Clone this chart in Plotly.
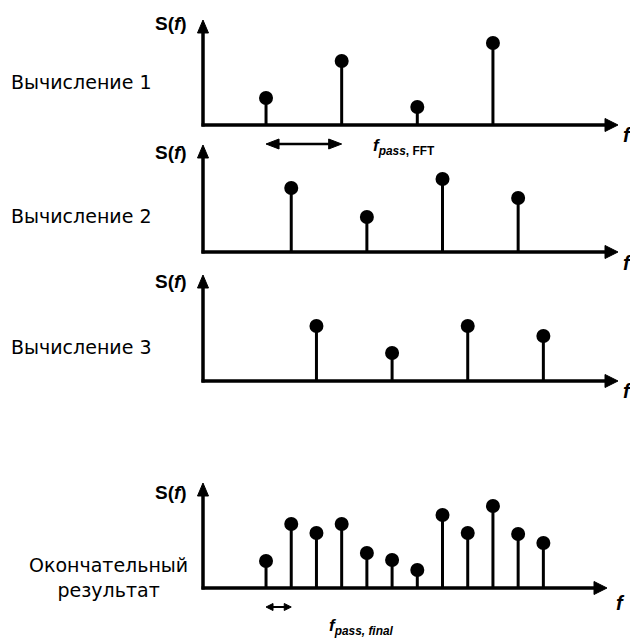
import plotly.graph_objects as go

W, H = 630, 640

# ---------------- data ----------------
calc1_freq = [1, 4, 7, 10]
calc1_amp = [27, 64, 18, 82]
calc2_freq = [2, 5, 8, 11]
calc2_amp = [64, 35, 73, 54]
calc3_freq = [3, 6, 9, 12]
calc3_amp = [55, 28, 55, 45]
final_freq = [1, 2, 3, 4, 5, 6, 7, 8, 9, 10, 11, 12]
final_amp = [27, 64, 55, 64, 35, 28, 18, 73, 55, 82, 54, 45]
panel_labels = ["Вычисление 1", "Вычисление 2", "Вычисление 3",
                "Окончательный<br>результат"]
series = [(calc1_freq, calc1_amp), (calc2_freq, calc2_amp),
          (calc3_freq, calc3_amp), (final_freq, final_amp)]

# ---------------- layout (pixels) ----------------
X0_PX, X1_PX = 203, 619
XR = [-1.5, 15.0]
UPX = (X1_PX - X0_PX) / (XR[1] - XR[0])


def f2px(f):
    return X0_PX + (f - XR[0]) * UPX


def PX(px):
    return px / W


def PY(py):
    return 1 - py / H


def tri(pts):
    s = "M " + " L ".join(f"{PX(a):.5f},{PY(b):.5f}" for a, b in pts) + " Z"
    return dict(type="path", xref="paper", yref="paper", path=s,
                fillcolor="black", line=dict(color="black", width=1))


def hline(x0, x1, y, w):
    return dict(type="line", xref="paper", yref="paper", x0=PX(x0), x1=PX(x1),
                y0=PY(y), y1=PY(y), line=dict(color="black", width=w))


def vline(x, y0, y1, w):
    return dict(type="line", xref="paper", yref="paper", x0=PX(x), x1=PX(x),
                y0=PY(y0), y1=PY(y1), line=dict(color="black", width=w))


panels = [
    dict(base=125, tip=20, xtip=618, lab_y=82, sf_y=24, f_xy=(627, 135)),
    dict(base=252, tip=145, xtip=618, lab_y=216, sf_y=152, f_xy=(627, 263)),
    dict(base=381, tip=275, xtip=618, lab_y=347, sf_y=281, f_xy=(627, 391)),
    dict(base=588, tip=483, xtip=607, lab_y=577, sf_y=492, f_xy=(620, 603)),
]

fig = go.Figure()
shapes = []
annotations = []
FONT = "Liberation Sans, Arial, sans-serif"
LABFONT = "DejaVu Sans, sans-serif"
AX = X0_PX

for i, (p, (fx, fy)) in enumerate(zip(panels, series)):
    n = "" if i == 0 else str(i + 1)
    xa, ya = "x" + n, "y" + n
    ytop = p["base"] - p["tip"]
    fig.layout["xaxis" + n] = dict(domain=[X0_PX / W, X1_PX / W], range=XR,
                                   visible=False, anchor=ya, fixedrange=True)
    fig.layout["yaxis" + n] = dict(domain=[1 - p["base"] / H, 1 - p["tip"] / H],
                                   range=[0, ytop], visible=False, anchor=xa,
                                   fixedrange=True)
    # stems
    sx, sy = [], []
    for f, a in zip(fx, fy):
        sx += [f, f, None]
        sy += [0, a, None]
    fig.add_trace(go.Scatter(x=sx, y=sy, mode="lines",
                             line=dict(color="black", width=3),
                             xaxis=xa, yaxis=ya, showlegend=False,
                             hoverinfo="skip", cliponaxis=False))
    fig.add_trace(go.Scatter(x=fx, y=fy, mode="markers",
                             marker=dict(color="black", size=14),
                             xaxis=xa, yaxis=ya, showlegend=False,
                             cliponaxis=False))
    # axes with arrow heads
    b, t, xt = p["base"], p["tip"], p["xtip"]
    shapes.append(hline(AX - 1.5, xt - 8, b, 3.5))
    shapes.append(vline(AX, b + 1.5, t + 8, 3.5))
    shapes.append(tri([(xt, b), (xt - 13, b - 6.5), (xt - 13, b + 6.5)]))
    shapes.append(tri([(AX, t), (AX - 5.5, t + 13), (AX + 5.5, t + 13)]))
    # S(f)
    annotations.append(dict(xref="paper", yref="paper", x=189 / W, y=PY(p["sf_y"]),
                            xanchor="right", yanchor="middle", showarrow=False,
                            text="<b>S(<i>f</i>)</b>",
                            font=dict(family=FONT, size=19, color="black")))
    # f
    annotations.append(dict(xref="paper", yref="paper", x=p["f_xy"][0] / W,
                            y=PY(p["f_xy"][1]), xanchor="center", yanchor="middle",
                            showarrow=False, text="<b><i>f</i></b>",
                            font=dict(family=FONT, size=20, color="black")))
    # panel label
    if i < 3:
        annotations.append(dict(xref="paper", yref="paper", x=9 / W, y=PY(p["lab_y"]),
                                xanchor="left", yanchor="middle", showarrow=False,
                                text=panel_labels[i],
                                font=dict(family=LABFONT, size=19, color="black")))
    else:
        annotations.append(dict(xref="paper", yref="paper", x=108 / W, y=PY(p["lab_y"]),
                                xanchor="center", yanchor="middle", showarrow=False,
                                align="center", text=panel_labels[i],
                                font=dict(family=LABFONT, size=19, color="black")))


def double_arrow(f0, f1, y, head_len, head_w, lw):
    x0, x1 = f2px(f0), f2px(f1)
    shapes.append(hline(x0 + head_len * 0.6, x1 - head_len * 0.6, y, lw))
    shapes.append(tri([(x1, y), (x1 - head_len, y - head_w / 2), (x1 - head_len, y + head_w / 2)]))
    shapes.append(tri([(x0, y), (x0 + head_len, y - head_w / 2), (x0 + head_len, y + head_w / 2)]))


# spacing arrows (between consecutive bins of one FFT and of the final result)
double_arrow(calc1_freq[0], calc1_freq[1], 144, 13, 10, 2.5)
double_arrow(final_freq[0], final_freq[1], 607, 7, 7, 2)

annotations.append(dict(xref="paper", yref="paper", x=404 / W, y=PY(147),
                        xanchor="center", yanchor="middle", showarrow=False,
                        text="<b><i>f</i><sub><i>pass</i>, FFT</sub></b>",
                        font=dict(family=FONT, size=17, color="black")))
annotations.append(dict(xref="paper", yref="paper", x=361 / W, y=PY(627),
                        xanchor="center", yanchor="middle", showarrow=False,
                        text="<b><i>f</i><sub><i>pass, final</i></sub></b>",
                        font=dict(family=FONT, size=17, color="black")))

fig.update_layout(width=W, height=H, margin=dict(l=0, r=0, t=0, b=0),
                  paper_bgcolor="white", plot_bgcolor="white",
                  shapes=shapes, annotations=annotations, showlegend=False)
fig.write_html("out.html", config={"displayModeBar": False})
